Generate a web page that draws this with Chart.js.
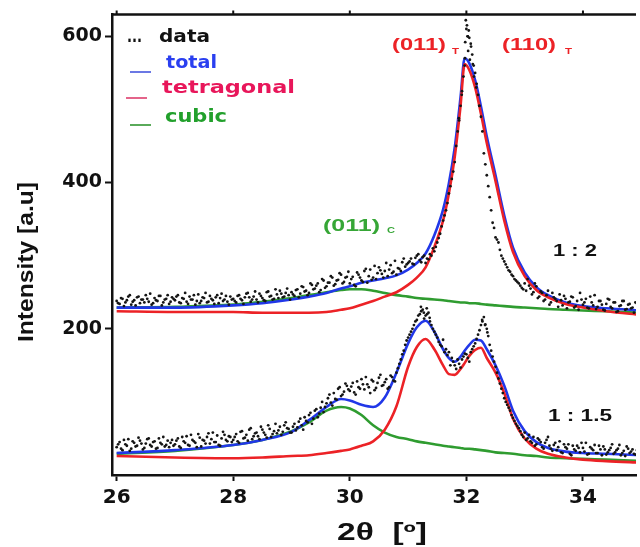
<!DOCTYPE html>
<html>
<head>
<meta charset="utf-8">
<script src="https://cdn.jsdelivr.net/npm/chart.js@4.4.0/dist/chart.umd.min.js"></script>
<style>
  html, body { margin: 0; padding: 0; background: #fff; }
  #wrap { width: 640px; height: 547px; }
</style>
</head>
<body>
<div id="wrap"><canvas id="xrd" width="640" height="547"></canvas></div>
<script>
'use strict';

// measured points, 2theta in degrees (two interleaved scans)
let dataTheta = [
  26,26.05,26.1,26.15,26.2,26.25,26.3,26.35,26.4,26.45,26.5,26.55,26.6,26.65,26.7,26.75,26.8,26.85,26.9,26.95,
  27,27.05,27.1,27.15,27.2,27.25,27.3,27.35,27.4,27.45,27.5,27.55,27.6,27.65,27.7,27.75,27.8,27.85,27.9,27.95,
  28,28.05,28.1,28.15,28.2,28.25,28.3,28.35,28.4,28.45,28.5,28.55,28.6,28.65,28.7,28.75,28.8,28.85,28.9,28.95,
  29,29.05,29.1,29.15,29.2,29.25,29.3,29.35,29.4,29.45,29.5,29.55,29.6,29.65,29.7,29.75,29.8,29.85,29.9,29.95,
  30,30.05,30.1,30.15,30.2,30.25,30.3,30.35,30.4,30.45,30.5,30.55,30.6,30.65,30.7,30.75,30.8,30.85,30.9,30.95,
  31,31.05,31.1,31.15,31.2,31.25,31.3,31.35,31.4,31.45,31.5,31.55,31.6,31.65,31.7,31.75,31.8,31.85,31.9,31.95,
  32,32.05,32.1,32.15,32.2,32.25,32.3,32.35,32.4,32.45,32.5,32.55,32.6,32.65,32.7,32.75,32.8,32.85,32.9,32.95,
  33,33.05,33.1,33.15,33.2,33.25,33.3,33.35,33.4,33.45,33.5,33.55,33.6,33.65,33.7,33.75,33.8,33.85,33.9,33.95,
  34,34.05,34.1,34.15,34.2,34.25,34.3,34.35,34.4,34.45,34.5,34.55,34.6,34.65,34.7,34.75,34.8,34.85,34.9,34.95
];
let dataThetaB = [
  26.025,26.075,26.125,26.175,26.225,26.275,26.325,26.375,26.425,26.475,26.525,26.575,26.625,26.675,26.725,26.775,26.825,26.875,26.925,26.975,
  27.025,27.075,27.125,27.175,27.225,27.275,27.325,27.375,27.425,27.475,27.525,27.575,27.625,27.675,27.725,27.775,27.825,27.875,27.925,27.975,
  28.025,28.075,28.125,28.175,28.225,28.275,28.325,28.375,28.425,28.475,28.525,28.575,28.625,28.675,28.725,28.775,28.825,28.875,28.925,28.975,
  29.025,29.075,29.125,29.175,29.225,29.275,29.325,29.375,29.425,29.475,29.525,29.575,29.625,29.675,29.725,29.775,29.825,29.875,29.925,29.975,
  30.025,30.075,30.125,30.175,30.225,30.275,30.325,30.375,30.425,30.475,30.525,30.575,30.625,30.675,30.725,30.775,30.825,30.875,30.925,30.975,
  31.025,31.075,31.125,31.175,31.225,31.275,31.325,31.375,31.425,31.475,31.525,31.575,31.625,31.675,31.725,31.775,31.825,31.875,31.925,31.975,
  32.025,32.075,32.125,32.175,32.225,32.275,32.325,32.375,32.425,32.475,32.525,32.575,32.625,32.675,32.725,32.775,32.825,32.875,32.925,32.975,
  33.025,33.075,33.125,33.175,33.225,33.275,33.325,33.375,33.425,33.475,33.525,33.575,33.625,33.675,33.725,33.775,33.825,33.875,33.925,33.975,
  34.025,34.075,34.125,34.175,34.225,34.275,34.325,34.375,34.425,34.475,34.525,34.575,34.625,34.675,34.725,34.775,34.825,34.875,34.925,34.975
];
let data12 = [
  238,234,241,236,244,233,239,243,235,240,246,237,233,242,238,245,236,241,234,243,
  239,246,235,241,237,244,240,233,247,238,242,236,245,239,243,235,248,240,237,244,
  241,236,246,239,243,249,237,244,240,248,242,238,251,245,241,247,252,243,249,246,
  250,245,254,248,257,252,249,260,255,262,253,266,258,263,270,261,267,274,264,271,
  262,271,258,274,266,279,263,281,270,268,284,275,279,272,287,278,274,282,291,285,
  290,296,288,300,294,298,290,295,300,306,318,330,348,362,385,405,428,470,505,545,
  610,598,575,550,520,490,440,410,380,345,325,318,300,292,284,278,272,266,262,256,
  262,268,255,250,258,244,249,240,252,236,243,238,247,232,241,236,244,229,238,249,
  233,241,228,236,246,230,238,226,234,240,228,236,224,232,238,227,234,229,236,231
];
let data12B = [
  235,242,231,239,246,237,232,244,240,236,241,248,235,239,245,232,240,246,237,241,
  244,236,242,249,234,240,246,238,235,243,249,237,241,234,246,242,238,245,233,240,
  238,245,241,234,248,243,240,251,236,245,239,250,244,240,254,242,248,244,255,240,
  247,253,243,258,251,246,262,254,259,250,268,256,263,272,259,266,276,262,270,278,
  268,260,277,270,264,282,272,267,286,276,280,270,290,281,276,293,283,279,296,288,
  292,289,297,302,291,300,296,302,310,312,324,340,355,372,395,415,450,485,525,570,
  600,590,560,535,505,470,425,395,362,338,322,308,296,288,280,274,268,264,259,254,
  252,259,247,262,242,251,238,246,233,249,241,230,239,245,228,237,243,231,226,240,
  236,229,244,232,227,238,233,225,241,230,236,223,231,238,226,233,228,222,235,229
];
let data115 = [
  38,45,34,42,49,36,44,40,47,35,43,50,39,46,37,44,52,41,38,48,
  42,50,37,46,53,40,48,44,56,39,47,52,43,58,45,41,50,55,46,52,
  48,56,44,60,51,47,64,53,58,49,62,55,68,52,60,57,66,59,72,63,
  58,70,65,77,62,74,82,70,88,79,92,86,98,110,95,104,118,108,114,122,
  115,126,110,120,131,117,124,112,128,119,133,122,127,118,136,129,140,152,165,178,
  188,196,205,212,220,226,218,222,205,196,188,178,185,172,168,160,150,158,147,162,
  165,155,172,180,192,205,216,200,178,162,148,132,118,105,96,88,78,70,64,55,
  58,50,46,52,42,48,38,44,52,36,41,34,46,30,38,42,27,35,40,31,
  37,44,29,36,41,30,35,39,28,34,42,31,36,27,33,39,30,35,28,33
];
let data115B = [
  42,36,48,40,33,46,39,51,43,37,49,41,45,36,50,42,39,47,44,40,
  47,39,52,44,41,55,46,38,51,48,43,57,49,45,54,40,59,48,53,45,
  52,46,59,50,55,62,49,57,53,66,58,51,63,56,70,61,55,68,64,58,
  66,61,73,68,79,72,85,77,90,84,100,93,105,99,112,103,120,110,125,117,
  121,113,128,118,124,134,120,130,116,126,137,123,131,120,134,128,146,158,170,184,
  192,200,210,218,224,214,220,210,200,192,182,176,168,164,150,155,145,152,158,166,
  160,168,176,186,198,210,206,190,170,155,140,125,112,100,92,82,74,67,60,52,
  48,55,44,40,50,45,36,48,40,33,44,38,31,42,36,29,40,33,37,44,
  32,28,38,34,30,40,27,35,31,37,29,34,41,30,26,36,32,29,34,30
];
// extra scattered counts near the main reflections
let extraTheta12 = [31.97,31.98,31.99,32.01,32.02,32.03,32.04,32.06,32.08,32.11,32.13,32.17,32.22,31.92,31.87];
let extra12 = [560,592,622,615,600,580,608,568,586,562,545,530,505,520,488];
let extraTheta115 = [31.22,31.27,31.32,31.37,32.27,32.32,32.36];
let extra115 = [230,222,228,215,212,205,195];

// fitted profiles on one 2theta grid
let fitTheta = [26,27,28,28.5,29,29.3,29.6,29.85,30,30.2,30.4,30.6,30.8,31,31.15,31.3,31.45,31.6,31.7,31.8,31.9,31.97,32.05,32.15,32.25,32.35,32.5,32.65,32.8,33,33.2,33.4,33.7,34,34.4,35];
let total12 = [229,229,232,235,240,244,249,255,258,263,266,269,273,281,290,303,328,363,399,448,517,570,563,540,504,463,410,355,311,277,257,246,236,231,228,225];
let tetra12 = [224,223,223,222,222,222,223,226,228,233,238,244,250,260,270,284,312,348,385,435,505,562,554,530,494,454,402,348,305,272,253,243,234,229,224,219];
let cubic12 = [229,230,233,237,242,246,250,253,254,254,252,249,246,244,242,241,240,239,238,237,236,236,235,235,234,233,232,231,230,229,228,227,226,225,224,222];
let total115 = [30,34,41,48,59,75,93,104,102,96,93,106,140,180,202,211,196,172,160,155,162,170,178,185,184,172,150,122,88,60,45,37,32,30,29,27];
let tetra115 = [26,24,23,24,26,27,30,33,35,40,46,62,94,148,175,186,172,150,138,137,145,153,163,171,174,160,140,112,77,50,36,29,24,21,19,17];
let cubic115 = [29,33,41,48,60,72,88,93,91,82,68,58,52,49,46,44,42,40,39,38,37,36,36,35,34,33,31,30,29,27,26,24,23,22,21,19];

let xTicks = [26, 28, 30, 32, 34];
let yTicks = [200, 400, 600];

const BLUE = '#2137e8';
const RED = '#ec2226';
const GREEN = '#2f9c30';

function pts(xs, ys) {
  return xs.map((x, i) => ({ x: x, y: ys[i] }));
}

function dots(xs, ys) {
  return {
    data: pts(xs, ys),
    showLine: false,
    pointRadius: 1.4,
    pointBackgroundColor: '#151515',
    pointBorderWidth: 0
  };
}

function curve(ys, color) {
  return {
    data: pts(fitTheta, ys),
    borderColor: color,
    borderWidth: 2.6,
    pointRadius: 0,
    fill: false,
    cubicInterpolationMode: 'monotone'
  };
}

// draw text squeezed/stretched to a measured width
function fitText(ctx, text, x, y, w, font, color) {
  ctx.save();
  ctx.font = font;
  ctx.fillStyle = color;
  ctx.textBaseline = 'middle';
  ctx.textAlign = 'left';
  let k = w / ctx.measureText(text).width;
  ctx.translate(x, y);
  ctx.scale(k, 1);
  ctx.fillText(text, 0, 0);
  ctx.restore();
}

const overlay = {
  id: 'overlay',
  afterDraw(chart) {
    const ctx = chart.ctx;
    const area = chart.chartArea;
    const xs = chart.scales.x;

    // top frame line with tick nubs
    ctx.save();
    ctx.strokeStyle = '#111';
    ctx.lineWidth = 2.5;
    ctx.beginPath();
    ctx.moveTo(area.left - 1, area.top);
    ctx.lineTo(area.right, area.top);
    ctx.stroke();
    ctx.lineWidth = 2;
    ctx.beginPath();
    xTicks.forEach(v => {
      let px = xs.getPixelForValue(v);
      ctx.moveTo(px, area.top);
      ctx.lineTo(px, area.top - 4);
    });
    ctx.stroke();
    ctx.restore();

    // legend
    const lf = 'bold 17px "DejaVu Sans"';
    fitText(ctx, '...', 127, 38, 15, lf, '#111');
    fitText(ctx, 'data', 159, 38, 51, lf, '#111');
    const marks = [[130, 72, '#6b78e4'], [126, 98, '#e4648a'], [130, 125, '#5aaa5a']];
    ctx.save();
    ctx.lineWidth = 2;
    marks.forEach(m => {
      ctx.strokeStyle = m[2];
      ctx.beginPath();
      ctx.moveTo(m[0], m[1]);
      ctx.lineTo(m[0] + 21, m[1]);
      ctx.stroke();
    });
    ctx.restore();
    fitText(ctx, 'total', 166, 64, 51, lf, '#2a3ff0');
    fitText(ctx, 'tetragonal', 162, 89, 133, lf, '#e8165a');
    fitText(ctx, 'cubic', 165, 118, 62, lf, '#22a02c');

    // reflection labels
    const af = 'bold 17px "Liberation Sans"';
    const sf = 'bold 9px "Liberation Sans"';
    fitText(ctx, '(011)', 392, 45, 54, af, RED);
    fitText(ctx, 'T', 452, 52, 7, sf, RED);
    fitText(ctx, '(110)', 502, 45, 54, af, RED);
    fitText(ctx, 'T', 565, 52, 7, sf, RED);
    fitText(ctx, '(011)', 323, 226, 57, af, '#36a636');
    fitText(ctx, 'C', 387, 231, 8, sf, '#36a636');
    fitText(ctx, '1 : 2', 553, 252, 44, 'bold 16px "Liberation Sans"', '#111');
    fitText(ctx, '1 : 1.5', 548, 417, 64, 'bold 16px "Liberation Sans"', '#111');

    // axis titles
    fitText(ctx, '2\u03b8  [\u00ba]', 337, 534, 90, 'bold 23px "Liberation Sans"', '#111');
    ctx.save();
    ctx.translate(27, 262);
    ctx.rotate(-Math.PI / 2);
    fitText(ctx, 'Intensity [a.u]', -80, 0, 160, 'bold 22px "Liberation Sans"', '#111');
    ctx.restore();
  }
};

new Chart(document.getElementById('xrd'), {
  type: 'line',
  data: {
    datasets: [
      dots(dataTheta.concat(dataThetaB, extraTheta12), data12.concat(data12B, extra12)),
      dots(dataTheta.concat(dataThetaB, extraTheta115), data115.concat(data115B, extra115)),
      curve(tetra12, RED),
      curve(tetra115, RED),
      curve(total12, BLUE),
      curve(total115, BLUE),
      curve(cubic12, GREEN),
      curve(cubic115, GREEN)
    ]
  },
  options: {
    responsive: false,
    animation: false,
    layout: { padding: { top: 14, right: 0, left: 0, bottom: 0 } },
    plugins: { legend: { display: false }, tooltip: { enabled: false } },
    scales: {
      x: {
        type: 'linear',
        min: 25.92,
        max: 34.91,
        afterBuildTicks: s => { s.ticks = xTicks.map(v => ({ value: v })); },
        afterFit: s => { s.height = 72; },
        ticks: {
          color: '#111',
          font: { family: 'DejaVu Sans', size: 20, weight: 'bold' },
          padding: 5,
          maxRotation: 0,
          autoSkip: false
        },
        grid: { drawOnChartArea: false, tickLength: 6, tickWidth: 2, tickColor: '#111' },
        border: { color: '#111', width: 2.5 }
      },
      y: {
        min: 0,
        max: 630,
        afterBuildTicks: s => { s.ticks = yTicks.map(v => ({ value: v })); },
        afterFit: s => { s.width = 112; },
        ticks: {
          color: '#111',
          font: { family: 'DejaVu Sans', size: 19, weight: 'bold' },
          padding: 3
        },
        grid: { drawOnChartArea: false, tickLength: 7, tickWidth: 2, tickColor: '#111' },
        border: { color: '#111', width: 2.5 }
      }
    }
  },
  plugins: [overlay]
});
</script>
</body>
</html>
